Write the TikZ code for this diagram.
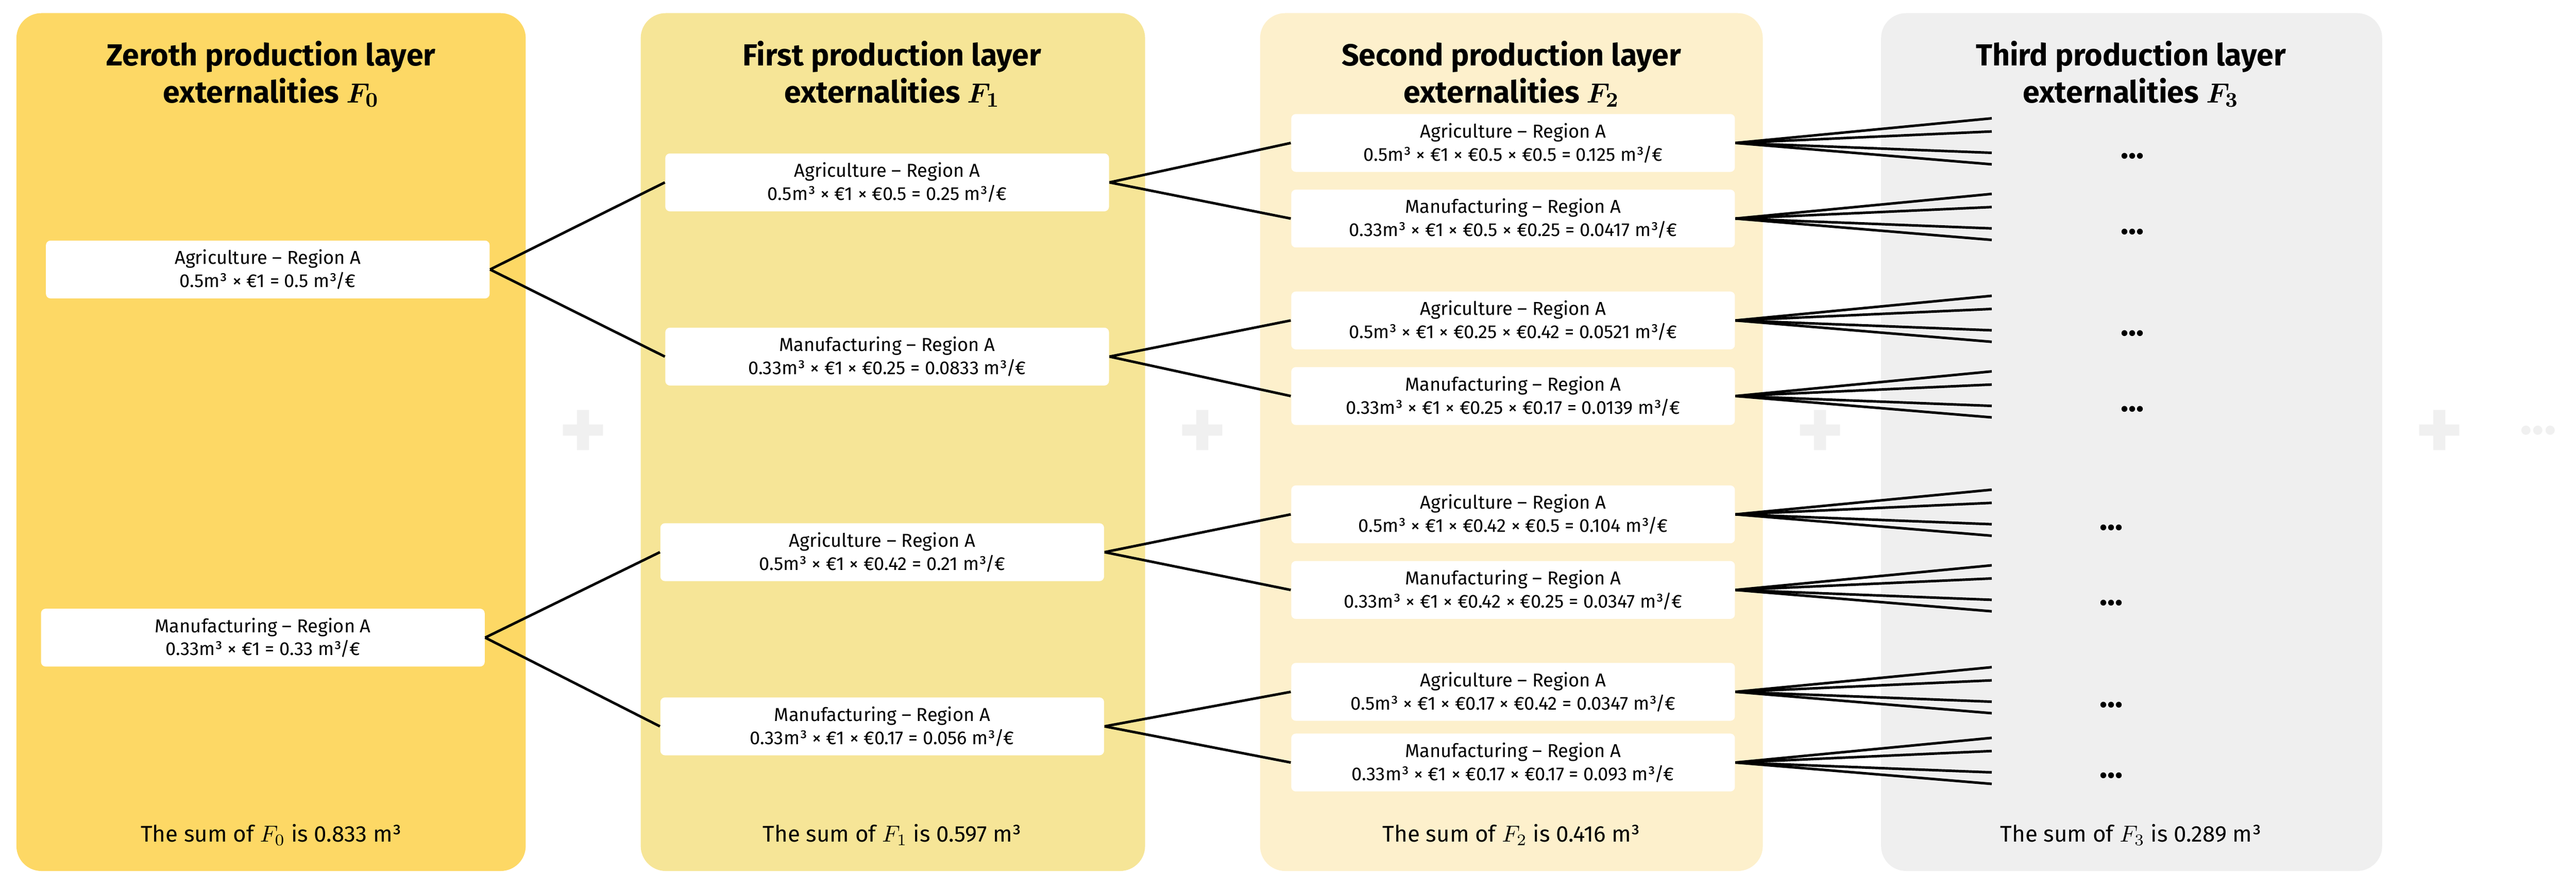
\documentclass[tikz,border=0pt]{standalone}
\usepackage{fontspec}
\setmainfont{Fira Sans}
\usetikzlibrary{positioning}

\tikzset{
  layer/.style={rounded corners=0.38cm},
  sector/.style={fill=white, rounded corners=2pt, minimum width=6.75cm,
    minimum height=0.88cm, inner sep=1pt, align=center,
    font=\fontsize{8.1}{10}\selectfont},
  title/.style={align=center, font=\fontsize{13.2}{16}\selectfont\bfseries\boldmath},
  total/.style={font=\fontsize{9.8}{11}\selectfont},
  link/.style={line width=1.1pt},
  more/.style={font=\fontsize{14}{14}\selectfont\bfseries},
  plus/.style={text=black!6, font=\fontsize{40}{40}\selectfont\bfseries}
}

\begin{document}
\begin{tikzpicture}[x=0.025cm, y=-0.025cm]
\useasboundingbox (0,0) rectangle (1568,540.7);
% layers
\fill[layer, fill={rgb,255:red,253;green,216;blue,101}] (10,8) rectangle (320,530);
\fill[layer, fill={rgb,255:red,246;green,229;blue,151}] (390,8) rectangle (697,530);
\fill[layer, fill={rgb,255:red,253;green,240;blue,204}] (767,8) rectangle (1073,530);
\fill[layer, fill={rgb,255:red,239;green,239;blue,239}] (1145,8) rectangle (1450,530);
% titles
\node[title] (t0) at (165,45) {Zeroth production layer\\externalities $F_0$};
\node[title] (t1) at (543,45) {First production layer\\externalities $F_1$};
\node[title] (t2) at (920,45) {Second production layer\\externalities $F_2$};
\node[title] (t3) at (1297,45) {Third production layer\\externalities $F_3$};
% zeroth layer
\node[sector] (a0) at (163,164) {Agriculture -- Region A\\0.5m³ × €1 = 0.5 m³/€};
\node[sector] (m0) at (160,388) {Manufacturing -- Region A\\0.33m³ × €1 = 0.33 m³/€};
% first layer
\node[sector] (aa1) at (540,111) {Agriculture -- Region A\\0.5m³ × €1 × €0.5 = 0.25 m³/€};
\node[sector] (am1) at (540,217) {Manufacturing -- Region A\\0.33m³ × €1 × €0.25 = 0.0833 m³/€};
\node[sector] (ma1) at (537,336) {Agriculture -- Region A\\0.5m³ × €1 × €0.42 = 0.21 m³/€};
\node[sector] (mm1) at (537,442) {Manufacturing -- Region A\\0.33m³ × €1 × €0.17 = 0.056 m³/€};
% second layer
\node[sector] (aaa2) at (921,87) {Agriculture -- Region A\\0.5m³ × €1 × €0.5 × €0.5 = 0.125 m³/€};
\node[sector] (aam2) at (921,133) {Manufacturing -- Region A\\0.33m³ × €1 × €0.5 × €0.25 = 0.0417 m³/€};
\node[sector] (ama2) at (921,195) {Agriculture -- Region A\\0.5m³ × €1 × €0.25 × €0.42 = 0.0521 m³/€};
\node[sector] (amm2) at (921,241) {Manufacturing -- Region A\\0.33m³ × €1 × €0.25 × €0.17 = 0.0139 m³/€};
\node[sector] (maa2) at (921,313) {Agriculture -- Region A\\0.5m³ × €1 × €0.42 × €0.5 = 0.104 m³/€};
\node[sector] (mam2) at (921,359) {Manufacturing -- Region A\\0.33m³ × €1 × €0.42 × €0.25 = 0.0347 m³/€};
\node[sector] (mma2) at (921,421) {Agriculture -- Region A\\0.5m³ × €1 × €0.17 × €0.42 = 0.0347 m³/€};
\node[sector] (mmm2) at (921,464) {Manufacturing -- Region A\\0.33m³ × €1 × €0.17 × €0.17 = 0.093 m³/€};
% links
\draw[link] (a0.east) -- (aa1.west);
\draw[link] (a0.east) -- (am1.west);
\draw[link] (m0.east) -- (ma1.west);
\draw[link] (m0.east) -- (mm1.west);
\foreach \p/\q/\r in {aa1/aaa2/aam2, am1/ama2/amm2, ma1/maa2/mam2, mm1/mma2/mmm2}{
  \draw[link] (\p.east) -- (\q.west);
  \draw[link] (\p.east) -- (\r.west);
}
% third layer
\foreach \s/\dx [count=\i] in {aaa2/1298, aam2/1298, ama2/1298, amm2/1298, maa2/1285, mam2/1285, mma2/1285, mmm2/1285}{
  \foreach \dy [count=\j] in {-15,-7,6,13}{
    \coordinate (e\i-\j) at ([xshift=3.9cm, yshift=-\dy*0.025cm]\s.east);
    \draw[link] (\s.east) -- (e\i-\j);
  }
  \node[more] (d\i) at ([yshift=-0.2cm]\s.east -| \dx,0) {...};
}
% sums
\node[total] (s0) at (165,508) {The sum of $F_0$ is 0.833 m³};
\node[total] (s1) at (543,508) {The sum of $F_1$ is 0.597 m³};
\node[total] (s2) at (920,508) {The sum of $F_2$ is 0.416 m³};
\node[total] (s3) at (1297,508) {The sum of $F_3$ is 0.289 m³};
% plus signs
\foreach \x [count=\k] in {355,732,1108,1485}
  \node[plus] (p\k) at (\x,265) {+};
\node[plus, font=\fontsize{22}{22}\selectfont\bfseries] (etc) at (1545,262) {...};
\end{tikzpicture}
\end{document}
